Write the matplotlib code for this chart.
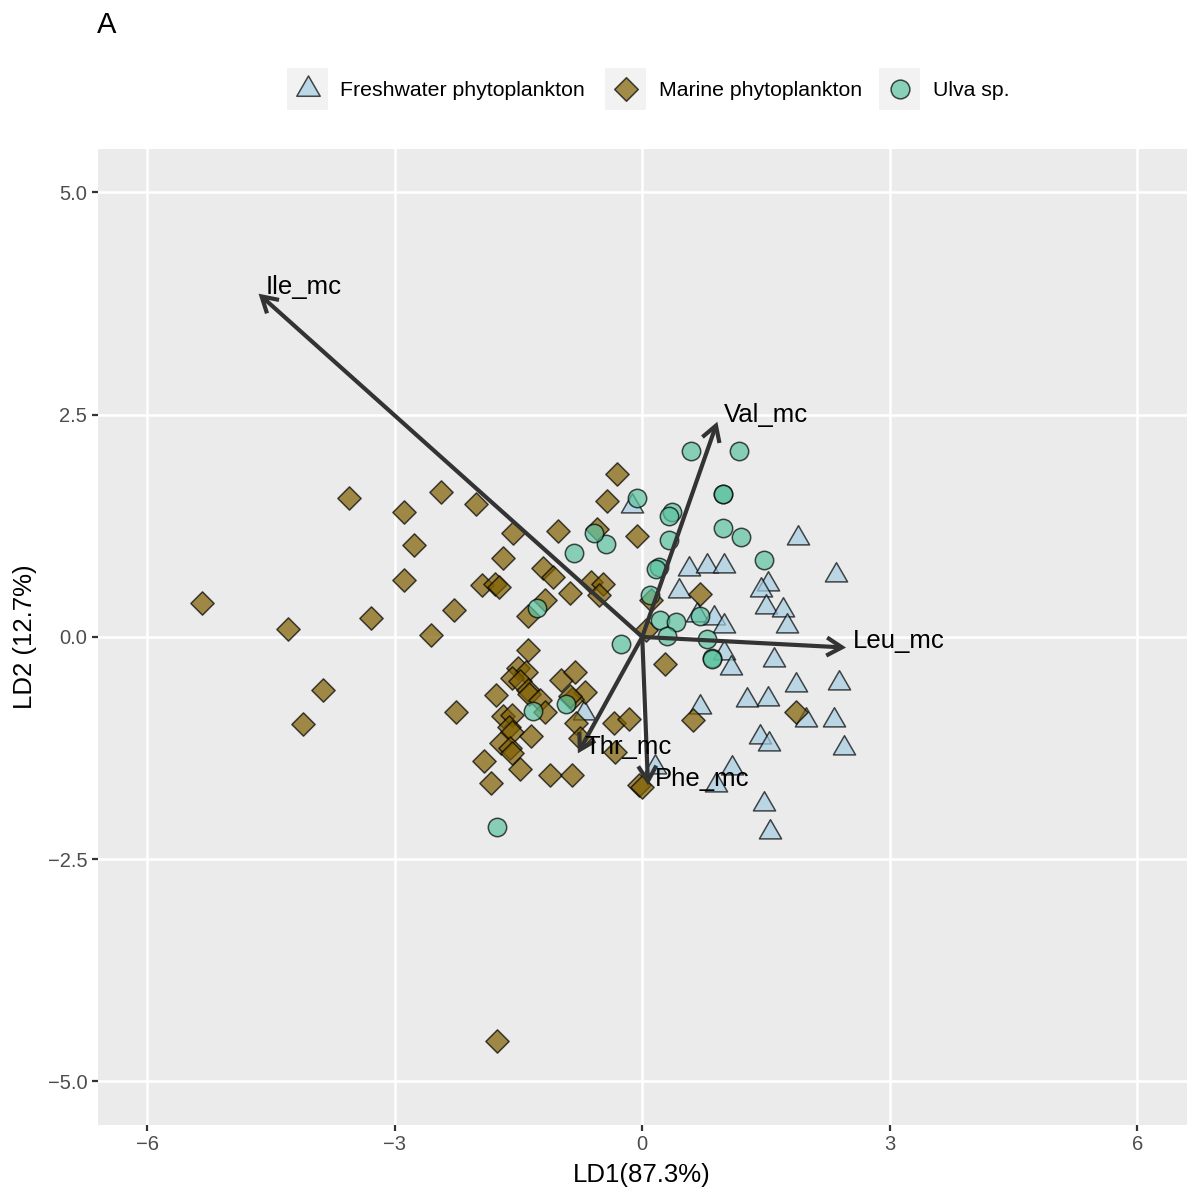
import matplotlib
matplotlib.use("Agg")
import matplotlib.pyplot as plt
import numpy as np
from matplotlib.patches import FancyArrowPatch, Rectangle
from matplotlib.lines import Line2D
from matplotlib.path import Path

plt.rcParams['font.family'] = ['Liberation Sans', 'DejaVu Sans']

# ---------------- data ----------------
groups = ["Freshwater phytoplankton", "Marine phytoplankton", "Ulva sp."]

fresh_ld1 = [-0.13, 1.89, 2.35, 0.57, 0.79, 0.99, 0.45, 1.53, 1.44, 1.50, 1.71, 1.75,
             0.66, 0.87, 0.99, 0.99, 1.08, 1.60, 1.86, 2.39, 1.27, 1.52, 0.70, 1.98,
             2.33, 1.43, 1.54, 2.45, 0.15, 1.09, 0.89, 1.47, 1.55, -0.71]
fresh_ld2 = [1.47, 1.11, 0.70, 0.76, 0.80, 0.80, 0.52, 0.60, 0.53, 0.34, 0.30, 0.12,
             0.25, 0.21, 0.12, -0.18, -0.35, -0.26, -0.54, -0.52, -0.71, -0.70, -0.79, -0.93,
             -0.93, -1.13, -1.21, -1.25, -1.46, -1.48, -1.67, -1.88, -2.19, -0.86]

marine_ld1 = [-5.34, -4.29, -3.87, -4.11, -3.55, -3.29, -2.89, -2.77, -2.89, -2.44,
              -2.56, -2.28, -2.26, -2.02, -1.94, -1.78, -1.74, -1.69, -1.57, -1.39,
              -1.02, -0.55, -0.43, -0.31, -0.06, -1.20, -1.08, -0.88, -0.62, -0.47,
              -0.53, -1.18, 0.11, 0.04, 0.70, -1.39, 0.28, -1.50, -1.41, -1.58,
              -1.48, -1.39, -1.37, -1.77, -0.99, -0.82, -0.69, -0.85, -0.88, -1.24,
              -1.18, -1.69, -1.58, -1.62, -1.58, -1.35, -0.80, -0.34, -0.16, -1.71,
              -1.60, -1.58, -0.75, -0.33, -1.92, -1.48, -1.83, -1.12, -0.85, -0.04,
              0.00, 0.62, 1.86, -1.76]
marine_ld2 = [0.38, 0.09, -0.60, -0.98, 1.56, 0.21, 1.41, 1.03, 0.64, 1.63,
              0.02, 0.30, -0.84, 1.50, 0.58, 0.60, 0.56, 0.89, 1.17, 0.23,
              1.19, 1.21, 1.53, 1.83, 1.13, 0.77, 0.67, 0.49, 0.62, 0.59,
              0.47, 0.42, 0.42, 0.08, 0.48, -0.15, -0.30, -0.35, -0.39, -0.46,
              -0.50, -0.60, -0.64, -0.65, -0.49, -0.39, -0.62, -0.70, -0.67, -0.71,
              -0.84, -0.89, -0.88, -1.01, -1.07, -1.11, -0.97, -0.97, -0.92, -1.19,
              -1.25, -1.31, -1.14, -1.29, -1.40, -1.49, -1.64, -1.55, -1.55, -1.67,
              -1.69, -0.94, -0.84, -4.54]

ulva_ld1 = [0.59, 1.17, 0.98, 0.98, -0.06, 0.36, 0.32, 0.98, 1.20, -0.44, -0.58,
            -0.83, 0.33, 1.48, 0.20, 0.17, 0.09, -1.28, 0.22, 0.41, 0.70, 0.30,
            0.78, -0.26, 0.84, 0.84, -1.33, -0.92, -1.76]
ulva_ld2 = [2.09, 2.09, 1.61, 1.61, 1.56, 1.40, 1.36, 1.22, 1.12, 1.04, 1.17,
            0.94, 1.09, 0.86, 0.79, 0.76, 0.47, 0.32, 0.19, 0.17, 0.23, 0.01,
            -0.02, -0.08, -0.24, -0.25, -0.83, -0.75, -2.14]

loading_names = ["Ile_mc", "Val_mc", "Leu_mc", "Thr_mc", "Phe_mc"]
loading_ld1 = [-4.65, 0.91, 2.47, -0.78, 0.07]
loading_ld2 = [3.86, 2.42, -0.12, -1.31, -1.67]

xticks = [-6, -3, 0, 3, 6]
yticks = [-5.0, -2.5, 0.0, 2.5, 5.0]

# ---------------- styles ----------------
tri = Path([(0, 1), (-0.866, -0.5), (0.866, -0.5), (0, 1)],
           [Path.MOVETO, Path.LINETO, Path.LINETO, Path.CLOSEPOLY])
dia = Path([(0, 1), (1, 0), (0, -1), (-1, 0), (0, 1)],
           [Path.MOVETO, Path.LINETO, Path.LINETO, Path.LINETO, Path.CLOSEPOLY])
fills = ["#a6cee3", "#7f5f00", "#5cc29f"]
markers = [tri, dia, "o"]
sizes = [340, 280, 175]
alpha = 0.7

def rgba(c, a):
    r, g, b, _ = matplotlib.colors.to_rgba(c)
    return (r, g, b, a)

fig = plt.figure(figsize=(12, 12), dpi=100)
ax = fig.add_axes([0.0814, 0.0625, 0.9076, 0.8135])
ax.set_facecolor("#EBEBEB")
for s in ax.spines.values():
    s.set_visible(False)
ax.set_xlim(-6.6, 6.6)
ax.set_ylim(-5.49, 5.49)
ax.set_xticks(xticks)
ax.set_xticklabels(["\u22126", "\u22123", "0", "3", "6"])
ax.set_yticks(yticks)
ax.set_yticklabels(["\u22125.0", "\u22122.5", "0.0", "2.5", "5.0"])
ax.grid(True, color="white", linewidth=1.8)
ax.set_axisbelow(True)
ax.tick_params(axis="both", colors="#333333", length=4.5, width=1.6,
               labelsize=14.5, labelcolor="#4D4D4D", pad=3)
ax.set_xlabel("LD1(87.3%)", fontsize=18.5, color="black", labelpad=6)
ax.set_ylabel("LD2 (12.7%)", fontsize=18.5, color="black", labelpad=8)

data = [(fresh_ld1, fresh_ld2), (marine_ld1, marine_ld2), (ulva_ld1, ulva_ld2)]
for (xs, ys), fc, mk, sz in zip(data, fills, markers, sizes):
    ax.scatter(xs, ys, s=sz, marker=mk, facecolor=rgba(fc, alpha),
               edgecolor=rgba("black", alpha), linewidth=1.1, zorder=3)

for name, lx, ly in zip(loading_names, loading_ld1, loading_ld2):
    arr = FancyArrowPatch((0, 0), (lx, ly),
                          arrowstyle="->,head_length=11,head_width=6.5",
                          mutation_scale=1, color="#333333", linewidth=3.0,
                          shrinkA=0, shrinkB=0, zorder=4, capstyle="butt",
                          joinstyle="miter")
    ax.add_patch(arr)
    ax.annotate(name, (lx, ly), xytext=(5, -4), textcoords="offset points",
                ha="left", va="bottom", fontsize=18.5, color="black", zorder=5)

# title tag
fig.text(0.081, 0.979, "A", fontsize=21, ha="left", va="center")

# legend (ggplot-style, top)
leg_key_x = [287, 605, 879]
leg_text_x = [340, 659, 933]
key_w = 41
yc = 89
for i, g in enumerate(groups):
    x0 = leg_key_x[i] / 1200
    fig.add_artist(Rectangle((x0, 1 - (yc + key_w / 2) / 1200), key_w / 1200, key_w / 1200,
                             transform=fig.transFigure, facecolor="#F2F2F2",
                             edgecolor="none"))
    ms = {0: 19.5, 1: 17, 2: 13.5}[i]
    fig.add_artist(Line2D([(leg_key_x[i] + key_w / 2) / 1200], [1 - yc / 1200],
                          transform=fig.transFigure, marker=markers[i], markersize=ms,
                          markerfacecolor=rgba(fills[i], alpha),
                          markeredgecolor=rgba("black", alpha), markeredgewidth=1.1,
                          linestyle="none"))
    fig.text(leg_text_x[i] / 1200, 1 - (yc + 1) / 1200, g, fontsize=15.3,
             ha="left", va="center")

fig.savefig("out.png", dpi=100)
